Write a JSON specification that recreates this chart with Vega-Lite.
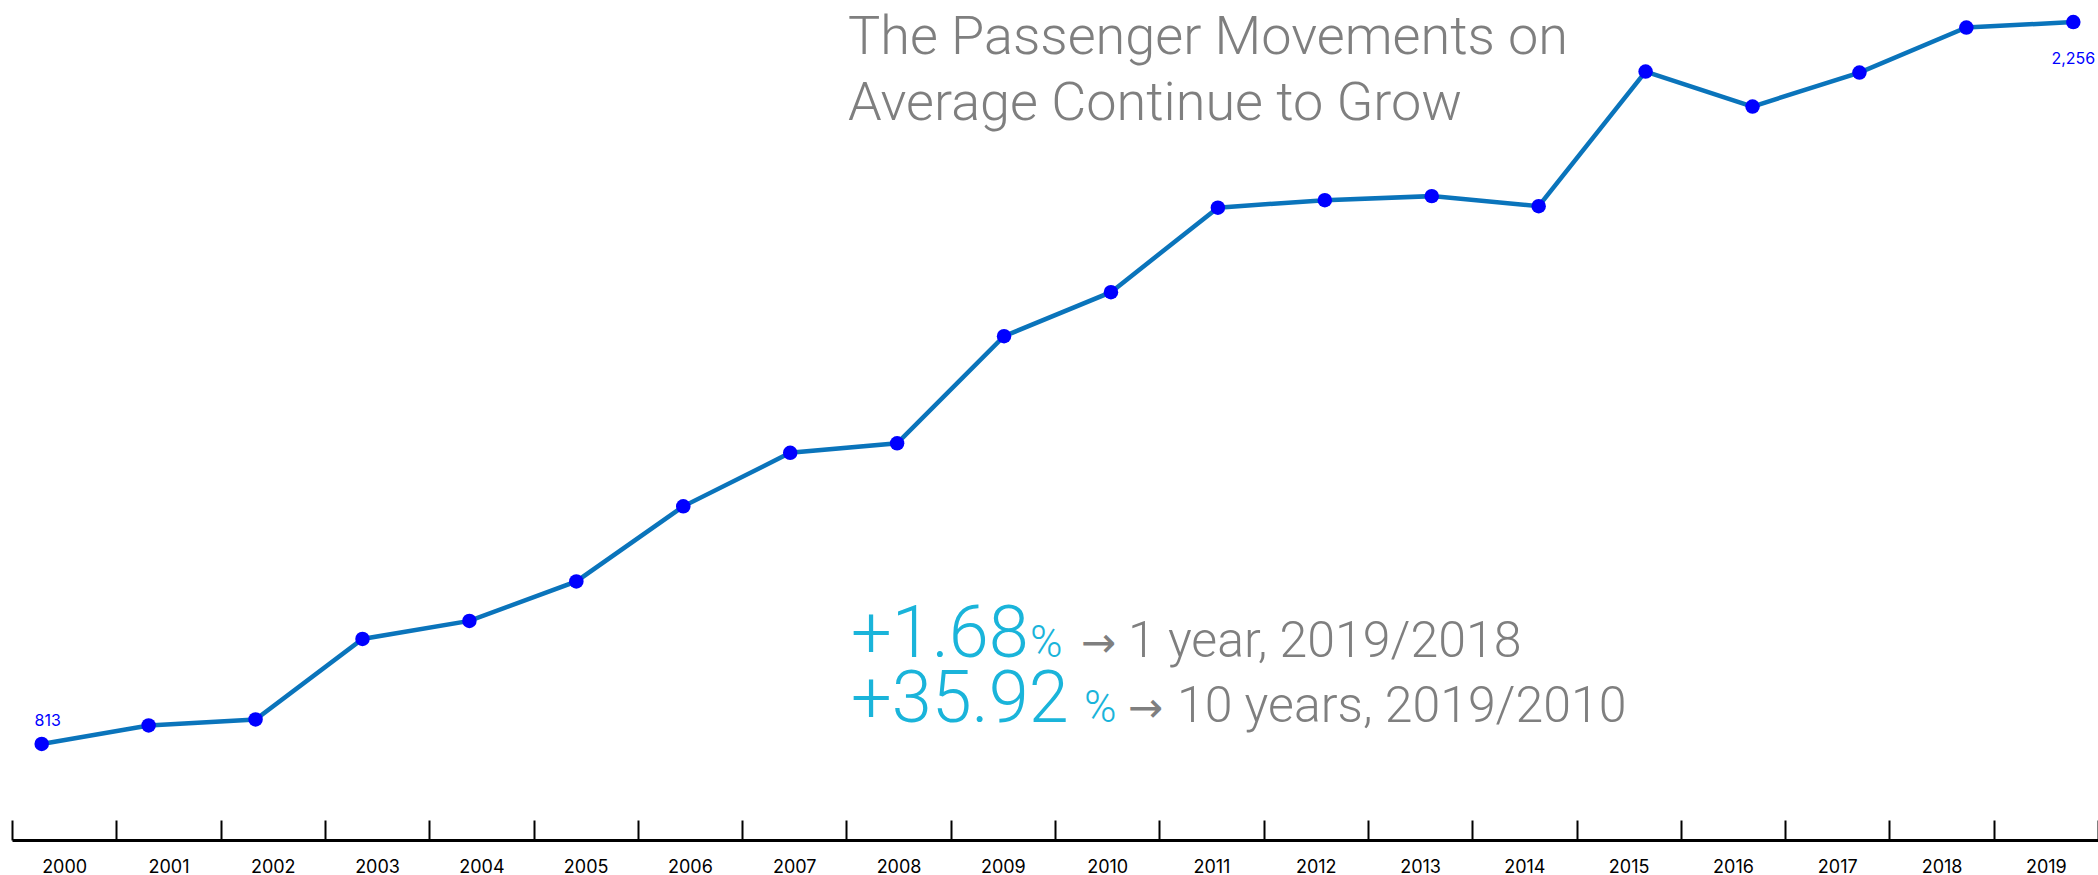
{
  "$schema": "https://vega.github.io/schema/vega-lite/v6.json",
  "width": 2086,
  "height": 840,
  "autosize": {"type": "none"},
  "padding": {"left": 12, "top": 0, "right": 0, "bottom": 35},
  "background": "white",
  "config": {"view": {"stroke": null}},
  "data": {
    "values": [
      {"year": 2000, "value": 813},
      {"year": 2001, "value": 850},
      {"year": 2002, "value": 862},
      {"year": 2003, "value": 1023},
      {"year": 2004, "value": 1059},
      {"year": 2005, "value": 1138},
      {"year": 2006, "value": 1288},
      {"year": 2007, "value": 1395},
      {"year": 2008, "value": 1414},
      {"year": 2009, "value": 1628},
      {"year": 2010, "value": 1716},
      {"year": 2011, "value": 1885},
      {"year": 2012, "value": 1900},
      {"year": 2013, "value": 1908},
      {"year": 2014, "value": 1888},
      {"year": 2015, "value": 2157},
      {"year": 2016, "value": 2087},
      {"year": 2017, "value": 2155},
      {"year": 2018, "value": 2245},
      {"year": 2019, "value": 2256}
    ]
  },
  "layer": [
    {
      "mark": {"type": "point", "opacity": 0},
      "encoding": {
        "x": {
          "field": "year",
          "type": "ordinal",
          "scale": {"type": "band", "paddingInner": 0, "paddingOuter": 0},
          "axis": {
            "title": null,
            "orient": "bottom",
            "tickBand": "extent",
            "domainColor": "#000000",
            "domainWidth": 3,
            "tickColor": "#000000",
            "tickWidth": 2,
            "tickSize": -20,
            "labelPadding": 47,
            "labelFont": "Inter",
            "labelFontSize": 18,
            "labelColor": "#000000",
            "labelAngle": 0,
            "labelBaseline": "middle"
          }
        }
      }
    },
    {
      "encoding": {
        "x": {
          "field": "year",
          "type": "quantitative",
          "scale": {"domain": [2000, 2019], "range": [29.7, 2061.3], "nice": false, "zero": false},
          "axis": null
        },
        "y": {
          "field": "value",
          "type": "quantitative",
          "scale": {"domain": [621.1, 2300], "nice": false, "zero": false},
          "axis": null
        }
      },
      "layer": [
        {"mark": {"type": "line", "color": "#0a74bb", "strokeWidth": 4.5}},
        {"mark": {"type": "point", "filled": true, "color": "#0000ff", "opacity": 1, "size": 210}},
        {
          "transform": [{"filter": "datum.year == 2000"}],
          "mark": {"type": "text", "color": "#0000ff", "font": "Inter", "fontSize": 16, "align": "center", "baseline": "alphabetic", "dx": 6, "dy": -18},
          "encoding": {"text": {"field": "value", "type": "quantitative", "format": ","}}
        },
        {
          "transform": [{"filter": "datum.year == 2019"}],
          "mark": {"type": "text", "color": "#0000ff", "font": "Inter", "fontSize": 16, "align": "center", "baseline": "alphabetic", "dy": 42},
          "encoding": {"text": {"field": "value", "type": "quantitative", "format": ","}}
        },
        {
          "transform": [{"filter": "datum.year == 2000"}],
          "mark": {"type": "text", "text": ["The Passenger Movements on", "Average Continue to Grow"], "align": "left", "baseline": "alphabetic", "font": "Roboto", "fontWeight": 300, "fontSize": 54, "lineHeight": 66, "color": "#7f7f7f"},
          "encoding": {"x": {"datum": 2007.541, "type": "quantitative"}, "y": {"datum": 2192, "type": "quantitative"}}
        },
        {
          "transform": [{"filter": "datum.year == 2000"}],
          "mark": {"type": "text", "text": "+1.68", "align": "left", "baseline": "alphabetic", "font": "Roboto", "fontWeight": 300, "fontSize": 72, "color": "#1ab4da"},
          "encoding": {"x": {"datum": 2007.569, "type": "quantitative"}, "y": {"datum": 987, "type": "quantitative"}}
        },
        {
          "transform": [{"filter": "datum.year == 2000"}],
          "mark": {"type": "text", "text": "%", "align": "left", "baseline": "alphabetic", "font": "Roboto", "fontWeight": 300, "fontSize": 44, "color": "#1ab4da"},
          "encoding": {"x": {"datum": 2009.243, "type": "quantitative"}, "y": {"datum": 987, "type": "quantitative"}}
        },
        {
          "transform": [{"filter": "datum.year == 2000"}],
          "mark": {"type": "text", "text": "→", "align": "left", "baseline": "alphabetic", "font": "DejaVu Sans", "fontSize": 42, "color": "#7f7f7f"},
          "encoding": {"x": {"datum": 2009.72, "type": "quantitative"}, "y": {"datum": 987, "type": "quantitative"}}
        },
        {
          "transform": [{"filter": "datum.year == 2000"}],
          "mark": {"type": "text", "text": "1 year, 2019/2018", "align": "left", "baseline": "alphabetic", "font": "Roboto", "fontWeight": 300, "fontSize": 50, "color": "#7f7f7f"},
          "encoding": {"x": {"datum": 2010.159, "type": "quantitative"}, "y": {"datum": 987, "type": "quantitative"}}
        },
        {
          "transform": [{"filter": "datum.year == 2000"}],
          "mark": {"type": "text", "text": "+35.92", "align": "left", "baseline": "alphabetic", "font": "Roboto", "fontWeight": 300, "fontSize": 72, "color": "#1ab4da"},
          "encoding": {"x": {"datum": 2007.569, "type": "quantitative"}, "y": {"datum": 857, "type": "quantitative"}}
        },
        {
          "transform": [{"filter": "datum.year == 2000"}],
          "mark": {"type": "text", "text": "%", "align": "left", "baseline": "alphabetic", "font": "Roboto", "fontWeight": 300, "fontSize": 44, "color": "#1ab4da"},
          "encoding": {"x": {"datum": 2009.748, "type": "quantitative"}, "y": {"datum": 857, "type": "quantitative"}}
        },
        {
          "transform": [{"filter": "datum.year == 2000"}],
          "mark": {"type": "text", "text": "→", "align": "left", "baseline": "alphabetic", "font": "DejaVu Sans", "fontSize": 42, "color": "#7f7f7f"},
          "encoding": {"x": {"datum": 2010.159, "type": "quantitative"}, "y": {"datum": 857, "type": "quantitative"}}
        },
        {
          "transform": [{"filter": "datum.year == 2000"}],
          "mark": {"type": "text", "text": "10 years, 2019/2010", "align": "left", "baseline": "alphabetic", "font": "Roboto", "fontWeight": 300, "fontSize": 50, "color": "#7f7f7f"},
          "encoding": {"x": {"datum": 2010.617, "type": "quantitative"}, "y": {"datum": 857, "type": "quantitative"}}
        }
      ]
    }
  ],
  "resolve": {"scale": {"x": "independent"}}
}
